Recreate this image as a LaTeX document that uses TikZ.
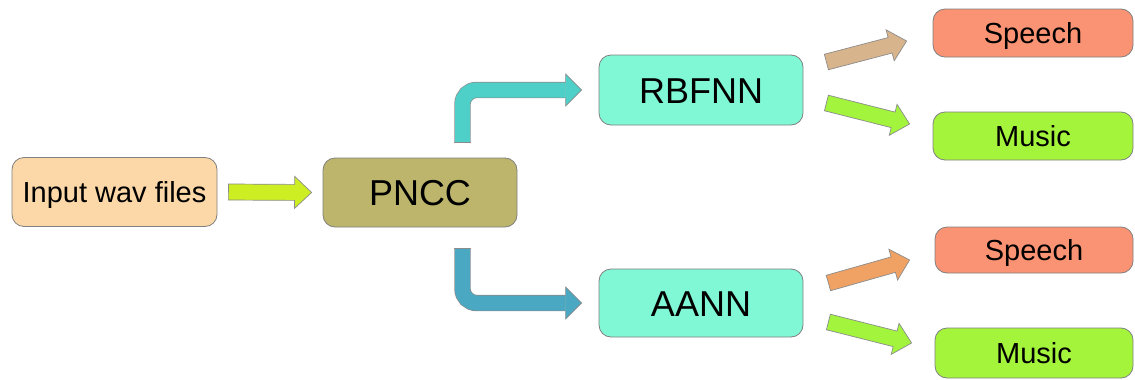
\documentclass[tikz,border=0pt]{standalone}
\usepackage{fontspec}
\setmainfont{Liberation Sans}
\usetikzlibrary{calc}
\definecolor{wavfill}{HTML}{FCD8A8}
\definecolor{pnccfill}{HTML}{BCB56B}
\definecolor{netfill}{HTML}{80F8D6}
\definecolor{speechfill}{HTML}{FA9373}
\definecolor{musicfill}{HTML}{A4F43C}
\definecolor{feedarrow}{HTML}{CCEE22}
\definecolor{uparrow}{HTML}{4ECFC8}
\definecolor{downarrow}{HTML}{4AA8C2}
\definecolor{tanarrow}{HTML}{D8B48C}
\definecolor{orangearrow}{HTML}{F0A264}
\definecolor{greenarrow}{HTML}{A2F43C}
\tikzstyle{box} = [draw=black!50, line width=0.8pt, rounded corners=12pt, inner sep=0pt, text height=21pt, text depth=0pt, font=\fontsize{29}{34}\selectfont]
\tikzstyle{bigbox} = [box, minimum width=204pt, minimum height=70pt, text height=26pt, font=\fontsize{36}{42}\selectfont]
\tikzstyle{fat} = [draw=black!45, line width=0.7pt]
\tikzstyle{shaft} = [draw=black!45, line width=0.7pt, double distance=15pt]
% straight block arrow: fill, tail, tip
\newcommand{\fatarrow}[3]{
    \path (#2) coordinate (fatail) (#3) coordinate (fatip);
    \path ($(fatip)!17pt!(fatail)$) coordinate (faneck);
    \filldraw[fat, fill=#1]
        ($(fatail)!8pt!90:(fatip)$) -- ($(faneck)!8pt!90:(fatip)$) -- ($(faneck)!16pt!90:(fatip)$)
        -- (fatip)
        -- ($(faneck)!16pt!-90:(fatip)$) -- ($(faneck)!8pt!-90:(fatip)$) -- ($(fatail)!8pt!-90:(fatip)$) -- cycle;
}
\begin{document}
\begin{tikzpicture}[x=1pt, y=-1pt]
    \fill[white] (0,0) rectangle (1135,380);

    \node [box, fill=wavfill, minimum width=205pt, minimum height=69pt] (wav) at (114.5,192) {Input wav files};
    \node [bigbox, fill=pnccfill, minimum width=194pt, minimum height=69pt] (pncc) at (420,192.5) {PNCC};
    \node [bigbox, fill=netfill] (rbfnn) at (701,90) {RBFNN};
    \node [bigbox, fill=netfill, minimum height=68pt] (aann) at (701,303) {AANN};
    \node [box, fill=speechfill, minimum width=200pt, minimum height=48pt] (speechA) at (1033,33) {Speech};
    \node [box, fill=musicfill, minimum width=200pt, minimum height=48pt] (musicA) at (1033,136) {Music};
    \node [box, fill=speechfill, minimum width=198pt, minimum height=46pt] (speechB) at (1034,250) {Speech};
    \node [box, fill=musicfill, minimum width=198pt, minimum height=50pt] (musicB) at (1034,353) {Music};

    \fatarrow{feedarrow}{$(wav.east)+(11,0)$}{$(pncc.west)+(-11,0)$}

    % PNCC splits into the two networks
    \coordinate (upfrom) at ($(pncc.north)+(42.5,-15)$);
    \coordinate (upto) at ($(rbfnn.west)+(-17,0)$);
    \coordinate (uphead) at ($(upto)+(-16,0)$);
    \draw [shaft, double=uparrow, rounded corners=14pt] (upfrom) |- (uphead);
    \draw [fat] ([xshift=-8.2pt]upfrom) -- ([xshift=8.2pt]upfrom);
    \filldraw [fat, fill=uparrow] ([yshift=7.5pt]uphead) -- ([yshift=16pt]uphead) -- (upto)
        -- ([yshift=-16pt]uphead) -- ([yshift=-7.5pt]uphead);

    \coordinate (downfrom) at ($(pncc.south)+(42.5,21)$);
    \coordinate (downto) at ($(aann.west)+(-17,0)$);
    \coordinate (downhead) at ($(downto)+(-16,0)$);
    \draw [shaft, double=downarrow, rounded corners=14pt] (downfrom) |- (downhead);
    \draw [fat] ([xshift=-8.2pt]downfrom) -- ([xshift=8.2pt]downfrom);
    \filldraw [fat, fill=downarrow] ([yshift=7.5pt]downhead) -- ([yshift=16pt]downhead) -- (downto)
        -- ([yshift=-16pt]downhead) -- ([yshift=-7.5pt]downhead);

    % class decisions
    \fatarrow{tanarrow}{$(rbfnn.east)+(23,-28)$}{$(speechA.west)+(-26,8)$}
    \fatarrow{greenarrow}{$(rbfnn.east)+(23,13)$}{$(musicA.west)+(-23,-12)$}
    \fatarrow{orangearrow}{$(aann.east)+(25,-20)$}{$(speechB.west)+(-25,10)$}
    \fatarrow{greenarrow}{$(aann.east)+(25,19)$}{$(musicB.west)+(-23,-10)$}
\end{tikzpicture}
\end{document}
